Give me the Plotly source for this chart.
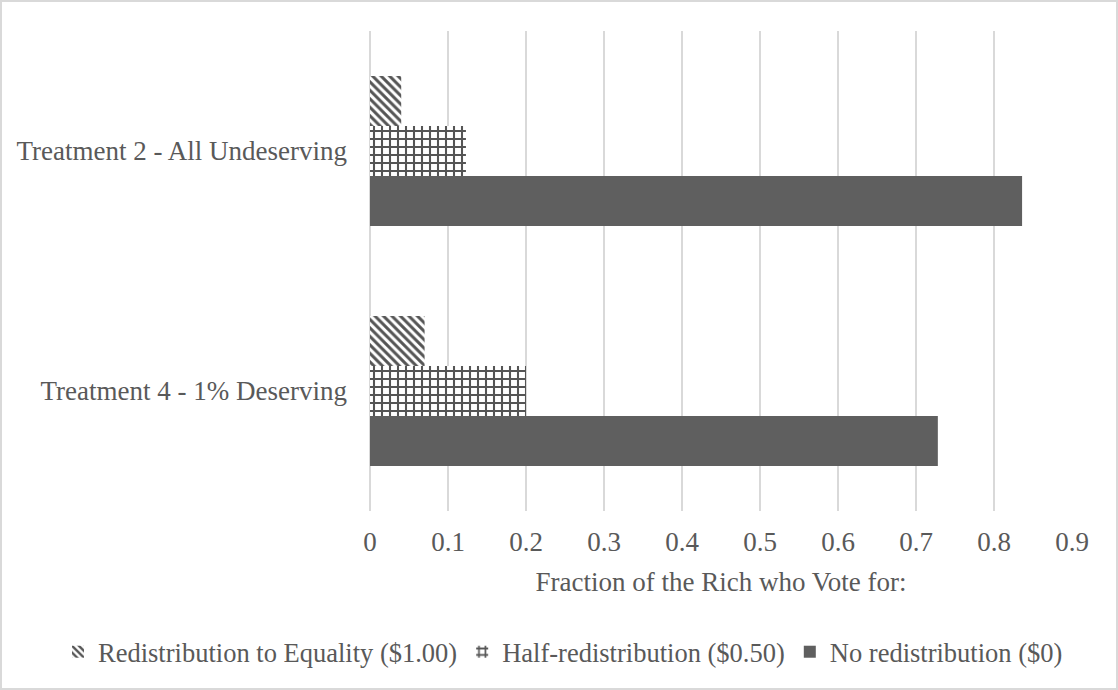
import plotly.graph_objects as go

# Data
categories = ["Treatment 2 - All Undeserving", "Treatment 4 - 1% Deserving"]
series_names = [
    "Redistribution to Equality ($1.00)",
    "Half-redistribution ($0.50)",
    "No redistribution ($0)",
]
equality_vals = [0.04, 0.07]
half_vals = [0.123, 0.20]
none_vals = [0.836, 0.728]

# Canvas and plot-area geometry
W, H = 1118, 690
ML, MR, MT, MB = 370, 46, 31, 179
FONT = "Liberation Serif, Times New Roman, serif"
TEXT = "#595959"
GRID = "#d9d9d9"
HATCH = "#555555"

fig = go.Figure()

fig.add_trace(go.Bar(
    name=series_names[0], y=categories, x=equality_vals, orientation="h",
    marker=dict(color="white", line=dict(width=0),
                pattern=dict(shape="\\", fgcolor=HATCH, bgcolor="white",
                             fgopacity=1, size=6, solidity=0.5)),
))
fig.add_trace(go.Bar(
    name=series_names[1], y=categories, x=half_vals, orientation="h",
    marker=dict(color="white", line=dict(width=0),
                pattern=dict(shape="+", fgcolor=HATCH, bgcolor="white",
                             fgopacity=1, size=8, solidity=0.45)),
))
fig.add_trace(go.Bar(
    name=series_names[2], y=categories, x=none_vals, orientation="h",
    marker=dict(color="#5f5f5f", line=dict(width=0)),
))

# Chart-area border in paper coordinates
pw = W - ML - MR
ph = H - MT - MB
def px_x(v):
    return (v - ML) / pw
def px_y(v):
    return (H - MB - v) / ph

fig.add_shape(type="rect", xref="paper", yref="paper",
              x0=px_x(1), x1=px_x(W - 1), y0=px_y(H - 1), y1=px_y(1),
              line=dict(color=GRID, width=2), fillcolor="rgba(0,0,0,0)",
              layer="below")

fig.update_layout(
    width=W, height=H,
    margin=dict(l=ML, r=MR, t=MT, b=MB, autoexpand=False),
    paper_bgcolor="white", plot_bgcolor="white",
    barmode="group", bargap=0.375, bargroupgap=0,
    font=dict(family=FONT, size=27, color=TEXT),
    showlegend=True,
    legend=dict(orientation="h", xref="paper", yref="paper",
                x=px_x(58), xanchor="left", y=px_y(652), yanchor="middle",
                font=dict(family=FONT, size=26.5, color=TEXT),
                itemwidth=30, traceorder="normal", bgcolor="rgba(0,0,0,0)"),
    xaxis=dict(range=[0, 0.9], dtick=0.1, tick0=0, showgrid=True,
               gridcolor=GRID, gridwidth=1.5, zeroline=True,
               zerolinecolor=GRID, zerolinewidth=1.5, showline=False,
               ticks="", ticklabelstandoff=12,
               tickfont=dict(family=FONT, size=27, color=TEXT),
               title=dict(text="Fraction of the Rich who Vote for:",
                          font=dict(family=FONT, size=27, color=TEXT),
                          standoff=16)),
    yaxis=dict(type="category", autorange="reversed", showgrid=False,
               zeroline=False, showline=False, ticks="",
               ticklabelstandoff=22,
               tickfont=dict(family=FONT, size=27, color=TEXT)),
)

fig.write_html("out.html")
